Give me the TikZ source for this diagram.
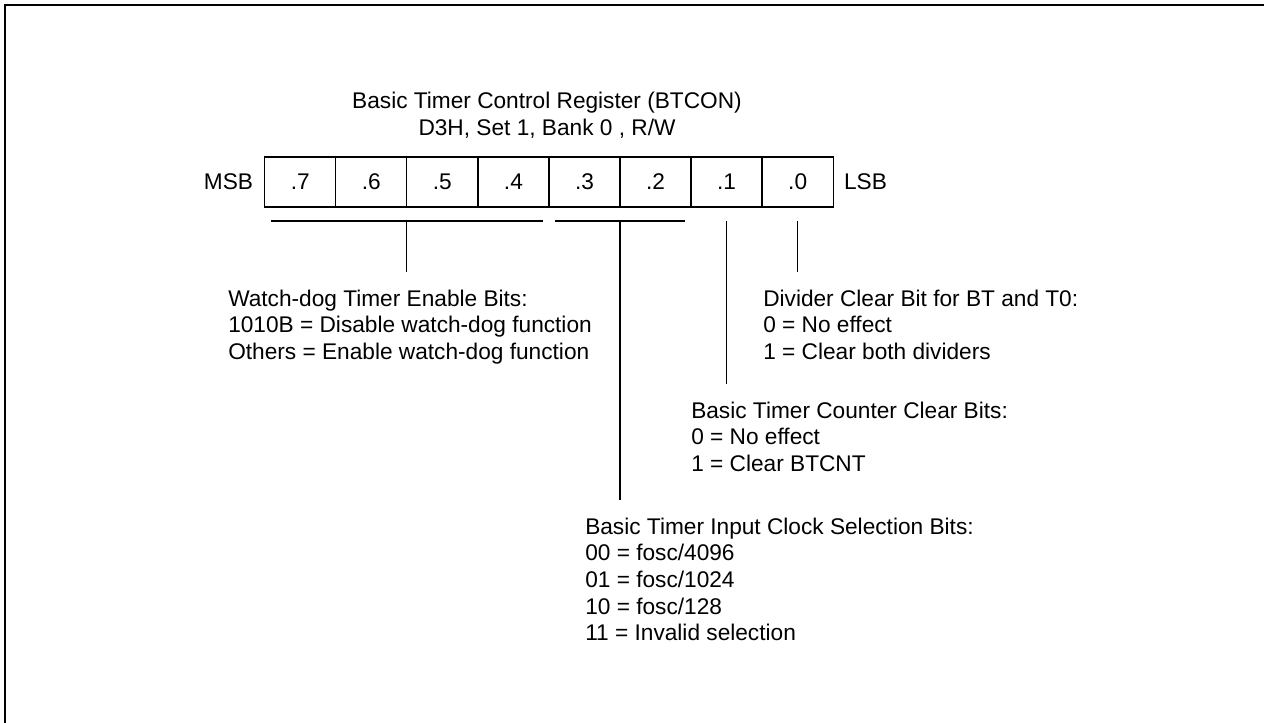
\documentclass[tikz,border=0pt]{standalone}
\usepackage{fontspec}
\setmainfont{Liberation Sans}
\usetikzlibrary{positioning, calc}

\begin{document}
\begin{tikzpicture}[
    x=0.75pt, y=-0.75pt,
    font=\fontsize{17}{20}\selectfont,
    cell/.style={rectangle, draw, line width=1pt, outer sep=0pt, inner sep=0pt,
                 minimum width=53.3pt, minimum height=37.5pt},
    conn/.style={line width=1pt},
    desc/.style={anchor=north west, align=left, inner sep=0pt}
  ]
  \useasboundingbox (0,0) rectangle (1264,723);
  \draw[line width=1.5pt] (5,723) -- (5,5) -- (1264,5);

  \node[align=center] (title) at (547,115)
    {Basic Timer Control Register (BTCON)\\D3H, Set 1, Bank 0 , R/W};

  % register bits
  \node[cell] (b7) at (300.2,182) {.7};
  \foreach \i/\j in {6/7,5/6,4/5,3/4,2/3,1/2,0/1}
    \node[cell, right=0pt of b\j] (b\i) {.\i};
  \node[left=8.5pt of b7, inner sep=0pt] (msb) {MSB};
  \node[right=8pt of b0, inner sep=0pt] (lsb) {LSB};

  % brackets under the bit groups
  \coordinate (wdl) at ($(b7.south west)+(6,14)$);
  \coordinate (wdr) at ($(b4.south east)+(-6,14)$);
  \coordinate (csl) at ($(b3.south west)+(6,14)$);
  \coordinate (csr) at ($(b2.south east)+(-6,14)$);
  \coordinate (wdm) at ($(wdl)!0.5!(wdr)$);
  \coordinate (csm) at ($(csl)!0.5!(csr)$);
  \coordinate (bt1) at ($(b1.south)+(0,14)$);
  \coordinate (bt0) at ($(b0.south)+(0,14)$);
  \draw[conn] (wdl) -- (wdr);
  \draw[conn] (csl) -- (csr);

  % descriptions
  \node[desc] (wdog) at (228,289.5)
    {Watch-dog Timer Enable Bits:\\1010B = Disable watch-dog function\\Others = Enable watch-dog function};
  \node[desc] (divclr) at (763,289.5)
    {Divider Clear Bit for BT and T0:\\0 = No effect\\1 = Clear both dividers};
  \node[desc] (cntclr) at (691,401.5)
    {Basic Timer Counter Clear Bits:\\0 = No effect\\1 = Clear BTCNT};
  \node[desc] (clksel) at (585,517.5)
    {Basic Timer Input Clock Selection Bits:\\00 = fosc/4096\\01 = fosc/1024\\10 = fosc/128\\11 = Invalid selection};

  \draw[conn] (wdm) -- ($(wdog.north -| wdm)+(0,-17.5)$);
  \draw[conn] (csm) -- ($(clksel.north -| csm)+(0,-17.5)$);
  \draw[conn] (bt1) -- ($(cntclr.north -| bt1)+(0,-17.5)$);
  \draw[conn] (bt0) -- ($(divclr.north -| bt0)+(0,-17.5)$);
\end{tikzpicture}
\end{document}
